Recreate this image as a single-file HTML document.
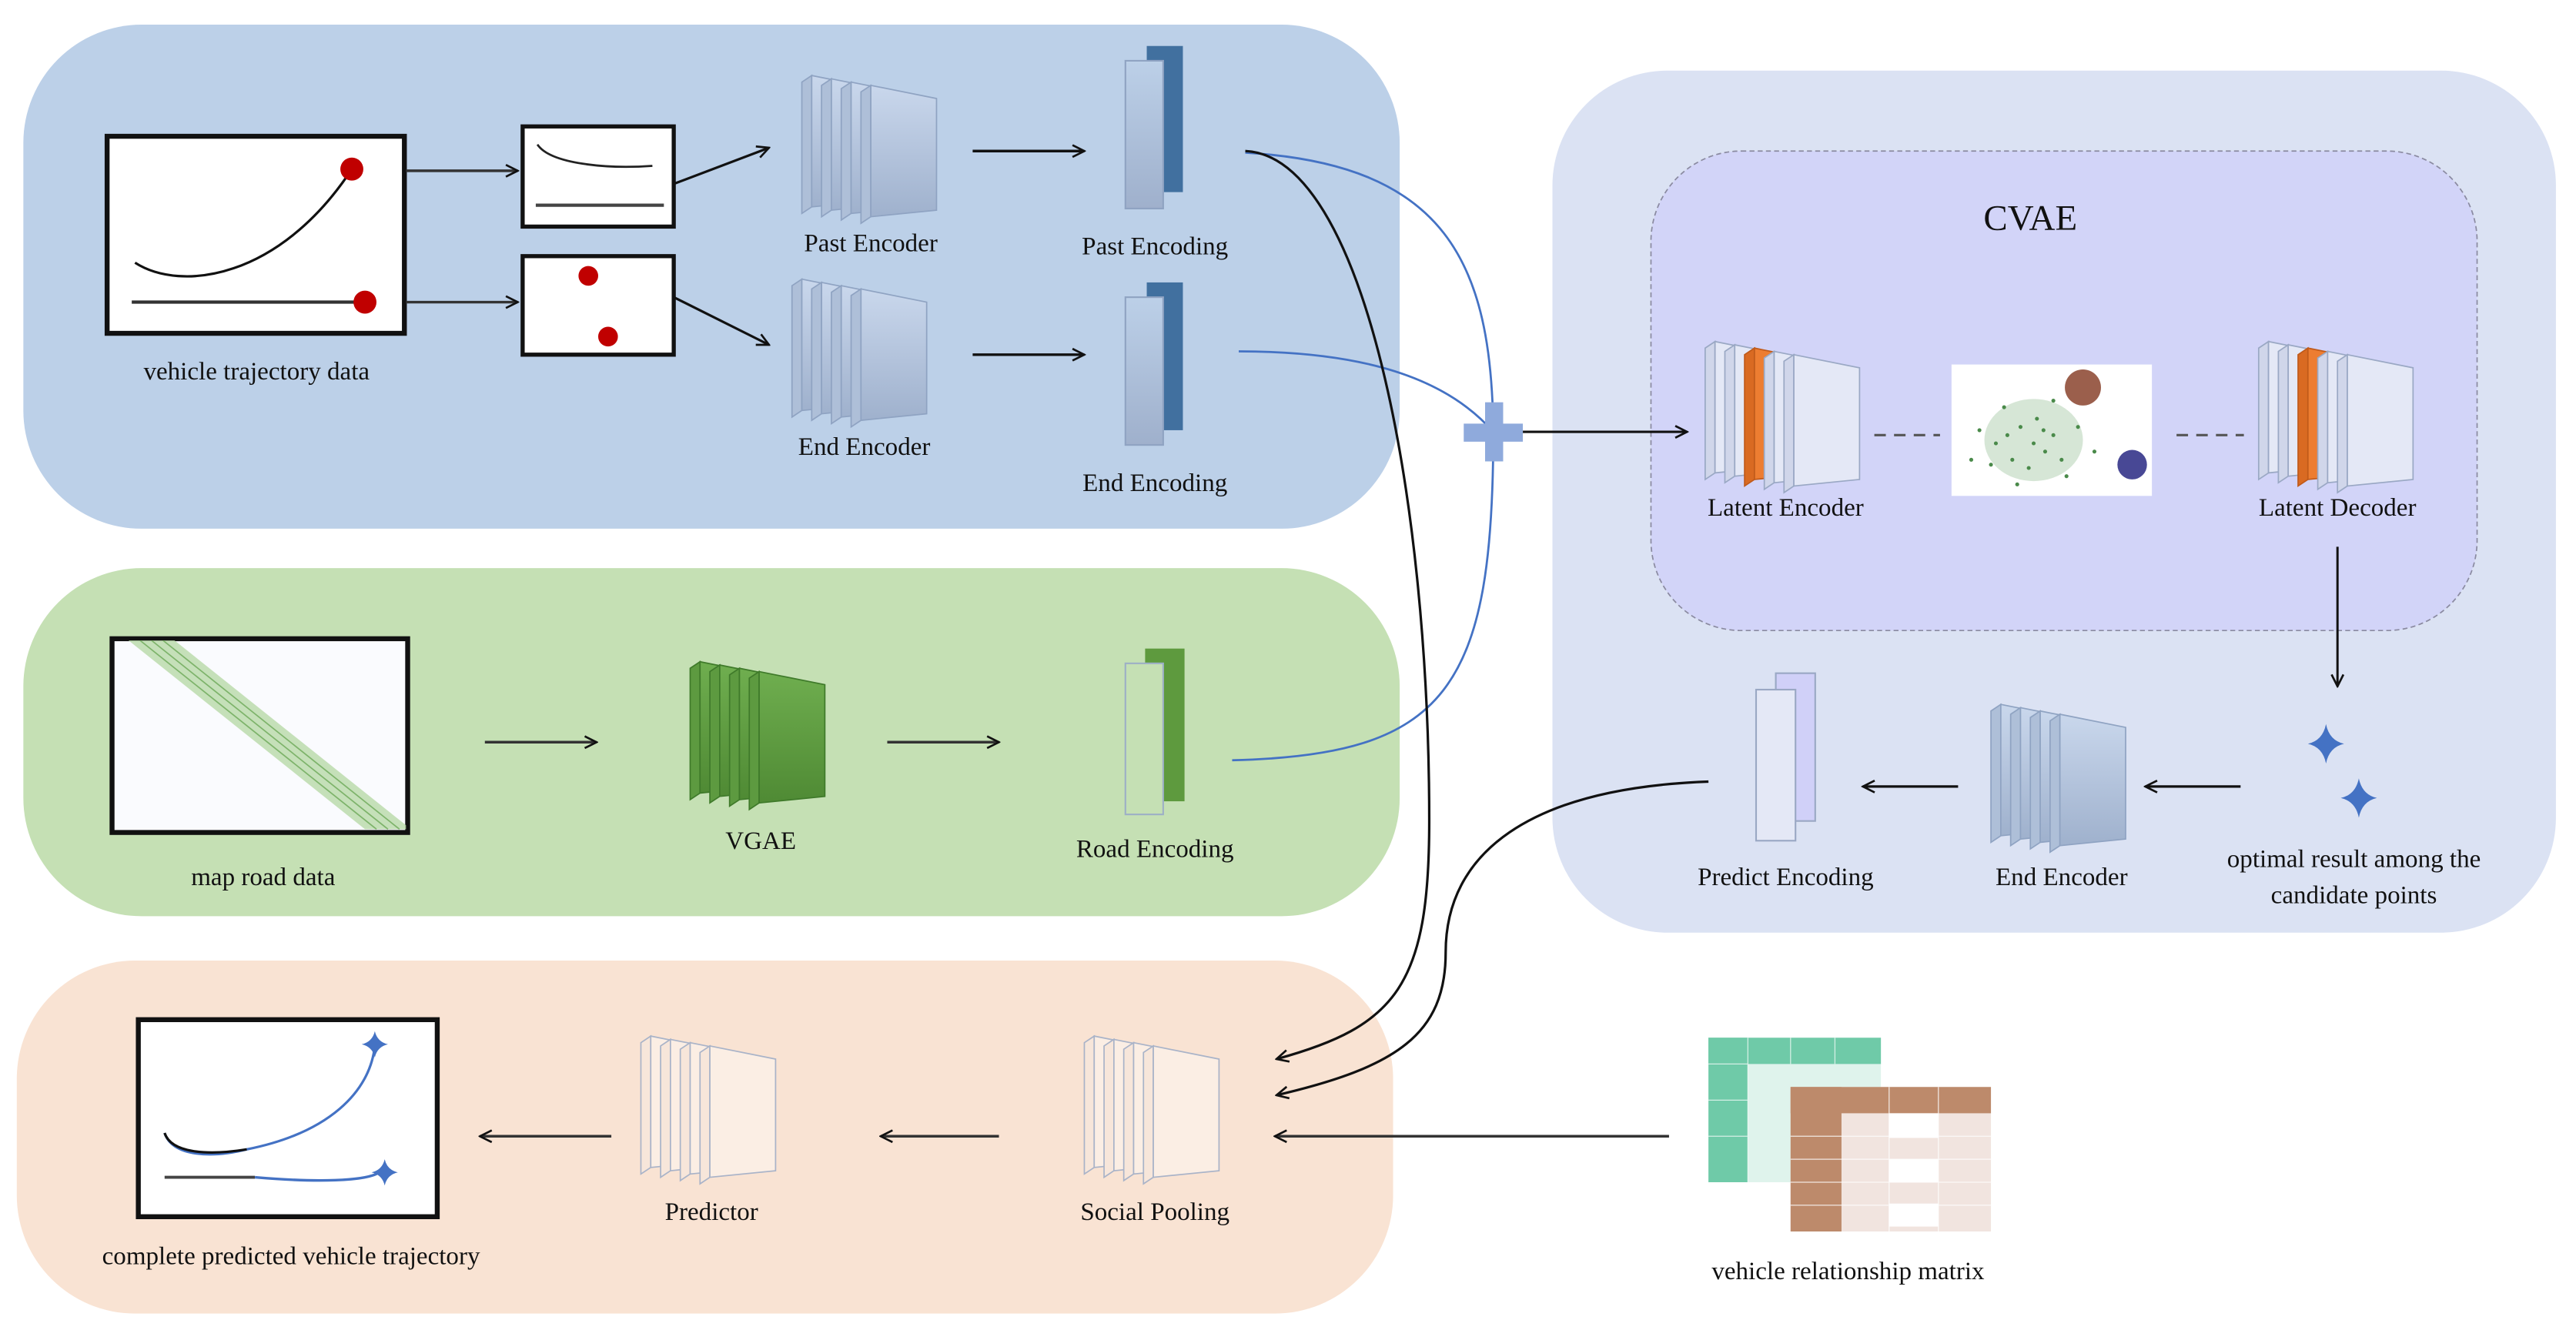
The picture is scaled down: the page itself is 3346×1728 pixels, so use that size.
<!DOCTYPE html>
<html><head><meta charset="utf-8"><style>
html,body{margin:0;padding:0;background:#fff}
svg{display:block}
svg text{font-family:"Liberation Serif","DejaVu Serif",serif !important;fill:#111}
</style></head><body>
<svg width="3346" height="1728" viewBox="0 0 1568 810" xmlns="http://www.w3.org/2000/svg" font-family="Liberation Serif, serif">
<defs>
<linearGradient id="gb" x1="0" y1="0" x2="0" y2="1"><stop offset="0" stop-color="#c9d7ec"/><stop offset="1" stop-color="#9fb1cd"/></linearGradient>
<linearGradient id="gg" x1="0" y1="0" x2="0" y2="1"><stop offset="0" stop-color="#6fae4f"/><stop offset="1" stop-color="#4f8a34"/></linearGradient>
<linearGradient id="gbar" x1="0" y1="0" x2="0" y2="1"><stop offset="0" stop-color="#bcd0e8"/><stop offset="1" stop-color="#9fb0cc"/></linearGradient>
<g id="pb"><polygon points="0,4 6,0 6,80 0,84" fill="#aebfd8" stroke="#8fa3c2" stroke-width="0.8"/><polygon points="6,0 46,8 46,76 6,80" fill="url(#gb)" stroke="#8fa3c2" stroke-width="0.8"/></g>
<g id="pg"><polygon points="0,4 6,0 6,80 0,84" fill="#5d9a40" stroke="#3f7a2a" stroke-width="0.8"/><polygon points="6,0 46,8 46,76 6,80" fill="url(#gg)" stroke="#3f7a2a" stroke-width="0.8"/></g>
<g id="pl"><polygon points="0,4 6,0 6,80 0,84" fill="#d0d6ea" stroke="#9aa8c4" stroke-width="0.8"/><polygon points="6,0 46,8 46,76 6,80" fill="#e4e8f6" stroke="#9aa8c4" stroke-width="0.8"/></g>
<g id="po"><polygon points="0,4 6,0 6,80 0,84" fill="#d96a22" stroke="#c05a1a" stroke-width="0.8"/><polygon points="6,0 46,8 46,76 6,80" fill="#ed7d31" stroke="#c05a1a" stroke-width="0.8"/></g>
<g id="pp"><polygon points="0,4 6,0 6,80 0,84" fill="#f7e6da" stroke="#a9b3c8" stroke-width="0.8"/><polygon points="6,0 46,8 46,76 6,80" fill="#fbeee4" stroke="#a9b3c8" stroke-width="0.8"/></g>
<marker id="ah" viewBox="0 0 10 10" refX="9" refY="5" markerWidth="9" markerHeight="9" orient="auto" markerUnits="userSpaceOnUse"><path d="M1,1 L9,5 L1,9" fill="none" stroke="#111" stroke-width="1.4"/></marker>
</defs>

<rect x="14" y="15" width="838" height="307" rx="72" fill="#bcd0e8"/>
<rect x="14" y="346" width="838" height="212" rx="72" fill="#c5e0b4"/>
<rect x="10" y="585" width="838" height="215" rx="72" fill="#f9e3d3"/>
<rect x="945" y="43" width="611" height="525" rx="70" fill="#dbe2f3"/>
<rect x="1005" y="92" width="503" height="292" rx="55" fill="#d2d4f8" stroke="#8a8aa0" stroke-width="0.8" stroke-dasharray="3,2"/>

<rect x="65" y="83" width="181" height="120" fill="#fff" stroke="#111" stroke-width="3"/>
<path d="M82,160 C110,178 170,170 214,103" fill="none" stroke="#111" stroke-width="1.5"/>
<circle cx="214" cy="103" r="7" fill="#c00000"/>
<line x1="80" y1="184" x2="222" y2="184" stroke="#333" stroke-width="2"/>
<circle cx="222" cy="184" r="7" fill="#c00000"/>
<text x="156" y="231" font-size="15.5" text-anchor="middle" font-family="Liberation Serif, serif">vehicle trajectory data</text>
<line x1="247" y1="104" x2="315" y2="104" stroke="#333" stroke-width="1.6" marker-end="url(#ah)"/>
<line x1="247" y1="184" x2="315" y2="184" stroke="#333" stroke-width="1.6" marker-end="url(#ah)"/>
<rect x="318" y="77" width="92" height="61" fill="#fff" stroke="#111" stroke-width="2.5"/>
<path d="M327,88 C335,100 370,103 397,101" fill="none" stroke="#222" stroke-width="1.3"/>
<line x1="326" y1="125" x2="404" y2="125" stroke="#444" stroke-width="2"/>
<rect x="318" y="156" width="92" height="60" fill="#fff" stroke="#111" stroke-width="2.5"/>
<circle cx="358" cy="168" r="6" fill="#c00000"/><circle cx="370" cy="205" r="6" fill="#c00000"/>
<line x1="410" y1="112" x2="468" y2="90" stroke="#111" stroke-width="1.5" marker-end="url(#ah)"/>
<line x1="410" y1="181" x2="468" y2="210" stroke="#111" stroke-width="1.5" marker-end="url(#ah)"/>

<g transform="translate(488,46)"><use href="#pb"/><use href="#pb" x="12" y="2"/><use href="#pb" x="24" y="4"/><use href="#pb" x="36" y="6"/></g>
<text x="530" y="153" font-size="15.5" text-anchor="middle" font-family="Liberation Serif, serif">Past Encoder</text>
<g transform="translate(482,170)"><use href="#pb"/><use href="#pb" x="12" y="2"/><use href="#pb" x="24" y="4"/><use href="#pb" x="36" y="6"/></g>
<text x="526" y="277" font-size="15.5" text-anchor="middle" font-family="Liberation Serif, serif">End Encoder</text>
<line x1="592" y1="92" x2="660" y2="92" stroke="#111" stroke-width="1.6" marker-end="url(#ah)"/>
<line x1="592" y1="216" x2="660" y2="216" stroke="#111" stroke-width="1.6" marker-end="url(#ah)"/>
<rect x="698" y="28" width="22" height="89" fill="#41709f"/>
<rect x="685" y="37" width="23" height="90" fill="url(#gbar)" stroke="#8fa3c2"/>
<text x="703" y="155" font-size="15.5" text-anchor="middle" font-family="Liberation Serif, serif">Past Encoding</text>
<rect x="698" y="172" width="22" height="90" fill="#41709f"/>
<rect x="685" y="181" width="23" height="90" fill="url(#gbar)" stroke="#8fa3c2"/>
<text x="703" y="299" font-size="15.5" text-anchor="middle" font-family="Liberation Serif, serif">End Encoding</text>

<rect x="68" y="389" width="180" height="118" fill="#fafbfe" stroke="#111" stroke-width="3"/>
<clipPath id="mc"><rect x="69" y="390" width="178" height="116"/></clipPath>
<g clip-path="url(#mc)">
<polygon points="78,390 106,390 250,505 222,505" fill="#b8d9a8" opacity="0.8"/>
<line x1="85" y1="390" x2="229" y2="505" stroke="#7db36a" stroke-width="0.8"/>
<line x1="92" y1="390" x2="236" y2="505" stroke="#7db36a" stroke-width="0.8"/>
<line x1="99" y1="390" x2="243" y2="505" stroke="#7db36a" stroke-width="0.8"/>
</g>
<text x="160" y="539" font-size="15.5" text-anchor="middle" font-family="Liberation Serif, serif">map road data</text>
<line x1="295" y1="452" x2="363" y2="452" stroke="#333" stroke-width="1.6" marker-end="url(#ah)"/>
<g transform="translate(420,403)"><use href="#pg"/><use href="#pg" x="12" y="2"/><use href="#pg" x="24" y="4"/><use href="#pg" x="36" y="6"/></g>
<text x="463" y="517" font-size="15.5" text-anchor="middle" font-family="Liberation Serif, serif">VGAE</text>
<line x1="540" y1="452" x2="608" y2="452" stroke="#333" stroke-width="1.6" marker-end="url(#ah)"/>
<rect x="697" y="395" width="24" height="93" fill="#5e9a3e"/>
<rect x="685" y="404" width="23" height="92" fill="#c5e0b4" stroke="#9db0c6"/>
<text x="703" y="522" font-size="15.5" text-anchor="middle" font-family="Liberation Serif, serif">Road Encoding</text>

<path d="M758,93 C880,100 908,160 909,263" fill="none" stroke="#4472c4" stroke-width="1.3"/>
<path d="M754,214 C830,214 880,230 909,263" fill="none" stroke="#4472c4" stroke-width="1.3"/>
<path d="M750,463 C880,460 909,420 909,263" fill="none" stroke="#4472c4" stroke-width="1.3"/>
<rect x="891" y="258" width="36" height="11" fill="#8faadc"/>
<rect x="904" y="245" width="11" height="36" fill="#8faadc"/>
<line x1="927" y1="263" x2="1027" y2="263" stroke="#111" stroke-width="1.5" marker-end="url(#ah)"/>

<path d="M758,92 C830,95 870,300 870,500 C870,600 850,625 777,645" fill="none" stroke="#111" stroke-width="1.5" marker-end="url(#ah)"/>
<path d="M1040,476 C930,480 880,520 880,580 C880,630 850,650 777,667" fill="none" stroke="#111" stroke-width="1.5" marker-end="url(#ah)"/>

<text x="1236" y="140" font-size="22" text-anchor="middle" font-family="Liberation Serif, serif">CVAE</text>
<g transform="translate(1038,208)"><use href="#pl"/><use href="#pl" x="12" y="2"/><use href="#po" x="24" y="4"/><use href="#pl" x="36" y="6"/><use href="#pl" x="48" y="8"/></g>
<text x="1087" y="314" font-size="15.5" text-anchor="middle" font-family="Liberation Serif, serif">Latent Encoder</text>
<g transform="translate(1375,208)"><use href="#pl"/><use href="#pl" x="12" y="2"/><use href="#po" x="24" y="4"/><use href="#pl" x="36" y="6"/><use href="#pl" x="48" y="8"/></g>
<text x="1423" y="314" font-size="15.5" text-anchor="middle" font-family="Liberation Serif, serif">Latent Decoder</text>
<line x1="1141" y1="265" x2="1181" y2="265" stroke="#555" stroke-width="1.5" stroke-dasharray="7,5"/>
<line x1="1325" y1="265" x2="1366" y2="265" stroke="#555" stroke-width="1.5" stroke-dasharray="7,5"/>
<rect x="1188" y="222" width="122" height="80" fill="#fff"/>
<ellipse cx="1238" cy="268" rx="30" ry="25" fill="#5a9a5a" opacity="0.25"/>
<g fill="#4a8a4a">
<circle cx="1205" cy="262" r="1.2"/><circle cx="1212" cy="283" r="1.2"/><circle cx="1220" cy="248" r="1.2"/><circle cx="1258" cy="290" r="1.2"/><circle cx="1265" cy="260" r="1.2"/><circle cx="1200" cy="280" r="1.2"/><circle cx="1275" cy="275" r="1.2"/><circle cx="1228" cy="295" r="1.2"/><circle cx="1250" cy="244" r="1.2"/><circle cx="1215" cy="270" r="1.2"/>
<circle cx="1230" cy="260" r="1.2"/><circle cx="1240" cy="255" r="1.2"/><circle cx="1245" cy="275" r="1.2"/><circle cx="1225" cy="280" r="1.2"/><circle cx="1235" cy="285" r="1.2"/><circle cx="1250" cy="265" r="1.2"/><circle cx="1222" cy="265" r="1.2"/><circle cx="1255" cy="280" r="1.2"/><circle cx="1238" cy="270" r="1.2"/><circle cx="1244" cy="262" r="1.2"/></g>
<circle cx="1268" cy="236" r="11" fill="#7a2a10" opacity="0.75"/>
<circle cx="1298" cy="283" r="9" fill="#1a1a7a" opacity="0.8"/>

<line x1="1423" y1="333" x2="1423" y2="418" stroke="#111" stroke-width="1.4" marker-end="url(#ah)"/>
<path d="M1416,441 Q1418,451 1427,453 Q1418,455 1416,465 Q1414,455 1405,453 Q1414,451 1416,441Z" fill="#4472c4"/>
<path d="M1436,474 Q1438,484 1447,486 Q1438,488 1436,498 Q1434,488 1425,486 Q1434,484 1436,474Z" fill="#4472c4"/>
<text x="1433" y="528" font-size="15.5" text-anchor="middle" font-family="Liberation Serif, serif">optimal result among the</text>
<text x="1433" y="550" font-size="15.5" text-anchor="middle" font-family="Liberation Serif, serif">candidate points</text>
<line x1="1364" y1="479" x2="1306" y2="479" stroke="#111" stroke-width="1.5" marker-end="url(#ah)"/>
<g transform="translate(1212,429)"><use href="#pb"/><use href="#pb" x="12" y="2"/><use href="#pb" x="24" y="4"/><use href="#pb" x="36" y="6"/></g>
<text x="1255" y="539" font-size="15.5" text-anchor="middle" font-family="Liberation Serif, serif">End Encoder</text>
<line x1="1192" y1="479" x2="1134" y2="479" stroke="#111" stroke-width="1.5" marker-end="url(#ah)"/>
<rect x="1081" y="410" width="24" height="90" fill="#d0d0f8" stroke="#9aa8c4"/>
<rect x="1069" y="420" width="24" height="92" fill="#e4e8f6" stroke="#9aa8c4"/>
<text x="1087" y="539" font-size="15.5" text-anchor="middle" font-family="Liberation Serif, serif">Predict Encoding</text>

<rect x="84" y="621" width="182" height="120" fill="#fff" stroke="#111" stroke-width="3"/>
<path d="M100,690 C105,705 130,705 150,700 C200,690 225,665 228,637" fill="none" stroke="#4472c4" stroke-width="1.5"/>
<path d="M100,690 C104,702 125,704 150,700" fill="none" stroke="#111" stroke-width="1.5"/>
<path d="M228,628 Q229.5,634.5 236,636 Q229.5,637.5 228,644 Q226.5,637.5 220,636 Q226.5,634.5 228,628Z" fill="#4472c4"/>
<line x1="100" y1="717" x2="155" y2="717" stroke="#444" stroke-width="1.8"/>
<path d="M155,717 C190,720 225,720 232,713" fill="none" stroke="#4472c4" stroke-width="1.6"/>
<path d="M234,706 Q235.5,712.5 242,714 Q235.5,715.5 234,722 Q232.5,715.5 226,714 Q232.5,712.5 234,706Z" fill="#4472c4"/>
<text x="177" y="770" font-size="15.5" text-anchor="middle" font-family="Liberation Serif, serif">complete predicted vehicle trajectory</text>
<g transform="translate(390,631)"><use href="#pp"/><use href="#pp" x="12" y="2"/><use href="#pp" x="24" y="4"/><use href="#pp" x="36" y="6"/></g>
<text x="433" y="743" font-size="15.5" text-anchor="middle" font-family="Liberation Serif, serif">Predictor</text>
<g transform="translate(660,631)"><use href="#pp"/><use href="#pp" x="12" y="2"/><use href="#pp" x="24" y="4"/><use href="#pp" x="36" y="6"/></g>
<text x="703" y="743" font-size="15.5" text-anchor="middle" font-family="Liberation Serif, serif">Social Pooling</text>
<line x1="608" y1="692" x2="536" y2="692" stroke="#333" stroke-width="1.6" marker-end="url(#ah)"/>
<line x1="372" y1="692" x2="292" y2="692" stroke="#333" stroke-width="1.6" marker-end="url(#ah)"/>
<line x1="1016" y1="692" x2="776" y2="692" stroke="#333" stroke-width="1.6" marker-end="url(#ah)"/>

<rect x="1040" y="632" width="105" height="88" fill="#dff3ec"/>
<rect x="1040" y="632" width="105" height="16" fill="#6fcaa8"/>
<rect x="1040" y="632" width="24" height="88" fill="#6fcaa8"/>
<g stroke="#fff" stroke-width="0.6" opacity="0.7"><line x1="1064" y1="632" x2="1064" y2="720"/><line x1="1090" y1="632" x2="1090" y2="648"/><line x1="1117" y1="632" x2="1117" y2="648"/><line x1="1040" y1="648" x2="1064" y2="648"/><line x1="1040" y1="670" x2="1064" y2="670"/><line x1="1040" y1="692" x2="1064" y2="692"/></g>
<rect x="1090" y="662" width="122" height="88" fill="#f1e4df"/>
<rect x="1090" y="662" width="122" height="16" fill="#bd8a6b"/>
<rect x="1090" y="662" width="31" height="88" fill="#bd8a6b"/>
<rect x="1150" y="678" width="30" height="15" fill="#fff"/>
<rect x="1150" y="706" width="30" height="14" fill="#fff"/>
<rect x="1150" y="733" width="30" height="14" fill="#fff"/>
<g stroke="#fff" stroke-width="0.6" opacity="0.8"><line x1="1090" y1="692" x2="1212" y2="692"/><line x1="1090" y1="706" x2="1212" y2="706"/><line x1="1090" y1="720" x2="1212" y2="720"/><line x1="1090" y1="734" x2="1212" y2="734"/><line x1="1150" y1="662" x2="1150" y2="750"/><line x1="1180" y1="662" x2="1180" y2="750"/></g>
<text x="1125" y="779" font-size="15.5" text-anchor="middle" font-family="Liberation Serif, serif">vehicle relationship matrix</text>
</svg>
</body></html>
